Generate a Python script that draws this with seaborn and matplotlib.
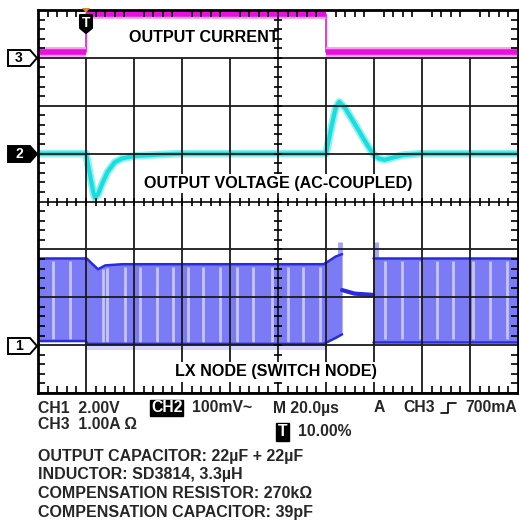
import numpy as np
import matplotlib
matplotlib.use('Agg')
import matplotlib.pyplot as plt
import seaborn as sns
from matplotlib.lines import Line2D
from matplotlib.patches import Polygon

# --- scope settings (per division) ---
time_per_div = 20.0      # us
ch1_per_div = 2.0        # V   (LX node)
ch2_per_div = 100.0      # mV  (output voltage, AC)
ch3_per_div = 1.0        # A   (output current)
ch1_ground, ch2_ground, ch3_ground = -3, 1, 3   # marker levels in divisions

# --- CH3 output current (A) ---
cur_t = [-20, 0, 0, 100, 100, 180]
cur_a = [0.115, 0.115, 0.92, 0.92, 0.115, 0.115]

# --- CH2 output voltage deviation (mV) ---
vout_t = [-20, 0, 1.5, 3, 3.75, 5, 7, 9, 12, 15, 20, 30, 40,
          100, 102, 104, 105.5, 108, 112, 116, 119.5, 122, 124.5, 128, 132, 140, 180]
vout_mv = [0, 0, -40, -80, -92, -85, -60, -38, -18, -10, -5, -2, 0,
           0, 50, 95, 108, 95, 62, 28, 0, -10, -13, -8, -3, 0, 0]

# --- CH1 LX node envelope (V) ---
lx1_t = [-20, 0, 0.5, 2, 5, 8, 15, 60, 99, 101, 104, 106.7]
lx1_top = [3.62, 3.62, 3.6, 3.45, 3.17, 3.33, 3.38, 3.38, 3.38, 3.5, 3.7, 3.8]
lx1_bot = [0.17, 0.17, 0.05, 0.05, 0.05, 0.05, 0.05, 0.05, 0.05, 0.15, 0.3, 0.45]
lx_idle_t = [106.7, 112, 119.6]
lx_idle_v = [2.3, 2.15, 2.1]
lx3_t = [119.6, 180]
lx3_top = [3.62, 3.62]
lx3_bot = [0.15, 0.15]
lx_spike_t = [105.8, 121.0]
lx_spike_v = [4.3, 4.3]
lx_fuzz_t = [0, 100]
lx_fuzz_v = [-0.2, -0.2]
lx_gap_t = [-13.75, -6.7, 7.1, 8.75, 16.25, 22.5, 29.6, 36.25, 42.5, 48.75, 55.8, 62.9,
            69.6, 77.5, 84.2, 90.4, 97.5, 124.6, 131.7, 139.2, 146.25, 152.9, 161.25,
            168.3, 175.4]


def to_div(values, ground, per_div):
    return [ground + v / per_div for v in values]


sns.set_style('white')
plt.rcParams['font.family'] = ['Liberation Sans', 'DejaVu Sans']

fig = plt.figure(figsize=(5.19, 5.23), dpi=100)
W, H = 519, 523
ax = fig.add_axes([38 / W, 1 - 393 / H, 480 / W, 383 / H])
ax.set_xlim(-20, 180)
ax.set_ylim(-4, 4)

# LX node band
blue_fill = '#7b7bf6'
blue_edge = '#2a2ae0'
ax.fill_between(lx_fuzz_t, to_div([0.05, 0.05], ch1_ground, ch1_per_div),
                to_div(lx_fuzz_v, ch1_ground, ch1_per_div), color='#d6d6fc', lw=0, zorder=1)
ax.fill_between(lx1_t, to_div(lx1_bot, ch1_ground, ch1_per_div),
                to_div(lx1_top, ch1_ground, ch1_per_div), color=blue_fill, lw=0, zorder=1)
ax.fill_between(lx3_t, to_div(lx3_bot, ch1_ground, ch1_per_div),
                to_div(lx3_top, ch1_ground, ch1_per_div), color=blue_fill, lw=0, zorder=1)
for t in lx_gap_t:
    if t < 106.7:
        top = np.interp(t, lx1_t, lx1_top)
        bot = np.interp(t, lx1_t, lx1_bot)
    else:
        top = np.interp(t, lx3_t, lx3_top)
        bot = np.interp(t, lx3_t, lx3_bot)
    ax.vlines(t, ch1_ground + bot / ch1_per_div + 0.05, ch1_ground + top / ch1_per_div - 0.05,
              color='#c4c4fb', lw=2.0, zorder=1.2)
for t, v in zip(lx_spike_t, lx_spike_v):
    top = np.interp(t, lx1_t, lx1_top) if t < 110 else lx3_top[0]
    ax.vlines(t, ch1_ground + top / ch1_per_div, ch1_ground + v / ch1_per_div,
              color='#a4a4f8', lw=3.5, zorder=1.2)
for xs, ys in [(lx1_t, lx1_top), (lx1_t, lx1_bot), (lx3_t, lx3_top), (lx3_t, lx3_bot)]:
    sns.lineplot(x=xs, y=to_div(ys, ch1_ground, ch1_per_div), ax=ax, color=blue_edge,
                 lw=1.8, estimator=None, sort=False, zorder=1.5)
sns.lineplot(x=lx_idle_t, y=to_div(lx_idle_v, ch1_ground, ch1_per_div), ax=ax, color=blue_edge,
             lw=3, estimator=None, sort=False, zorder=1.5)

# output current (magenta): thin edges, thick noisy plateaus
cur_y = to_div(cur_a, ch3_ground, ch3_per_div)
sns.lineplot(x=cur_t, y=cur_y, ax=ax, color='#e810dc', lw=1.2, estimator=None, sort=False, zorder=2)
for i in range(0, len(cur_t), 2):
    seg_x, seg_y = cur_t[i:i + 2], cur_y[i:i + 2]
    sns.lineplot(x=seg_x, y=seg_y, ax=ax, color='#f59cef', lw=7, estimator=None, sort=False,
                 zorder=2, solid_capstyle='butt')
    sns.lineplot(x=seg_x, y=seg_y, ax=ax, color='#e810dc', lw=4, estimator=None, sort=False,
                 zorder=2.1, solid_capstyle='butt')

# output voltage (cyan)
vout_y = to_div(vout_mv, ch2_ground, ch2_per_div)
sns.lineplot(x=vout_t, y=vout_y, ax=ax, color='#8ff0f0', lw=5.5, estimator=None, sort=False, zorder=2)
sns.lineplot(x=vout_t, y=vout_y, ax=ax, color='#19dede', lw=3, estimator=None, sort=False, zorder=2.1)

# graticule
grid_x = np.arange(-20, 181, time_per_div)
ax.set_yticks(np.arange(-4, 5, 1))
ax.set_xticks(grid_x)
ax.set_xticks(np.arange(-20, 181, time_per_div / 5), minor=True)
ax.set_yticks(np.arange(-4, 4.01, 0.2), minor=True)
ax.set_xticklabels([])
ax.set_yticklabels([])
ax.grid(True, which='major', axis='y', color='#1a1a1a', lw=1.3, zorder=3)
for gx in grid_x[1:-1]:
    top = 4 if gx == 80 else 3
    ax.vlines(gx, -4, top, color='#1a1a1a', lw=1.3, zorder=3)
ax.set_axisbelow(False)
ax.tick_params(which='both', direction='in', top=True, right=True, bottom=True, left=True,
               color='black', width=1.2)
ax.tick_params(which='major', length=0)
ax.tick_params(which='minor', length=5)
for s in ax.spines.values():
    s.set_linewidth(2)
    s.set_color('black')
    s.set_zorder(5)
mx = np.arange(-20, 181, time_per_div / 5)
my = np.arange(-4, 4.01, 0.2)
ax.plot(mx, np.zeros_like(mx), ls='none', marker='|', ms=6, mew=1.2, color='black', zorder=4)
ax.plot(np.full_like(my, 80), my, ls='none', marker='_', ms=6, mew=1.2, color='black', zorder=4)

# trace labels
lab = dict(fontsize=11.6, fontweight='bold', ha='center', va='center', color='black', zorder=6)
ax.text(49, 3.43, 'OUTPUT CURRENT', **lab)
ax.text(80, 0.375, 'OUTPUT VOLTAGE (AC-COUPLED)',
        bbox=dict(boxstyle='square,pad=0.15', fc='white', ec='none'), **lab)
ax.text(79, -3.56, 'LX NODE (SWITCH NODE)',
        bbox=dict(boxstyle='square,pad=0.15', fc='white', ec='none'), **lab)


def px(x, y):
    return (x / W, 1 - y / H)


# channel markers (figure pixel layout)
for yc, name, inv in [(58, '3', False), (154, '2', True), (346, '1', False)]:
    pts = [px(8, yc - 8), px(30, yc - 8), px(37, yc), px(30, yc + 8), px(8, yc + 8)]
    fig.add_artist(Polygon(pts, closed=True, transform=fig.transFigure,
                           fc='black' if inv else 'white', ec='black', lw=1.4))
    fig.text(*px(19, yc), name, ha='center', va='center', fontsize=10, fontweight='bold',
             color='white' if inv else 'black')

# trigger marker
trig = [px(80, 15), px(92, 15), px(92, 28), px(86, 33), px(80, 28)]
fig.add_artist(Polygon(trig, closed=True, transform=fig.transFigure, fc='black', ec='black',
                       lw=1.5, joinstyle='round'))
fig.text(*px(86, 23), 'T', ha='center', va='center', fontsize=10, fontweight='bold', color='white')
fig.add_artist(Polygon([px(82, 8), px(90, 8), px(86, 13)], closed=True, transform=fig.transFigure,
                       fc='#d98a2b', ec='none'))


# readout
def ftxt(x, y, s, size=11.3, **kw):
    fig.text(x / W, 1 - y / H, s, fontsize=size, fontweight='bold', va='center', ha='left', **kw)


fig.text(38 / W, 1 - 401 / H, 'CH1  2.00V\nCH3  1.00A Ω', fontsize=11.3, fontweight='bold',
         va='top', ha='left', linespacing=1.05)
ftxt(151, 408, 'CH2', color='white', bbox=dict(boxstyle='square,pad=0.05', fc='black', ec='black'))
ftxt(192, 408, '100mV~')
ftxt(273, 408, 'M 20.0µs')
ftxt(374, 408, 'A')
ftxt(403, 408, 'CH3')
fig.text(517 / W, 1 - 408 / H, '700mA', fontsize=11.3, fontweight='bold', va='center', ha='right')
fig.add_artist(Line2D(np.array([441, 448, 448, 456]) / W, 1 - np.array([413, 413, 403, 403]) / H,
                      color='black', lw=1.2))
ftxt(278, 432, 'T', color='white', bbox=dict(boxstyle='square,pad=0.1', fc='black', ec='black'))
ftxt(298, 432, '10.00%')

ftxt(38, 456, 'OUTPUT CAPACITOR: 22µF + 22µF', size=11.5)
ftxt(38, 475, 'INDUCTOR: SD3814, 3.3µH', size=11.5)
ftxt(38, 494, 'COMPENSATION RESISTOR: 270kΩ', size=11.5)
ftxt(38, 512, 'COMPENSATION CAPACITOR: 39pF', size=11.5)

fig.savefig('out.png', dpi=100)
